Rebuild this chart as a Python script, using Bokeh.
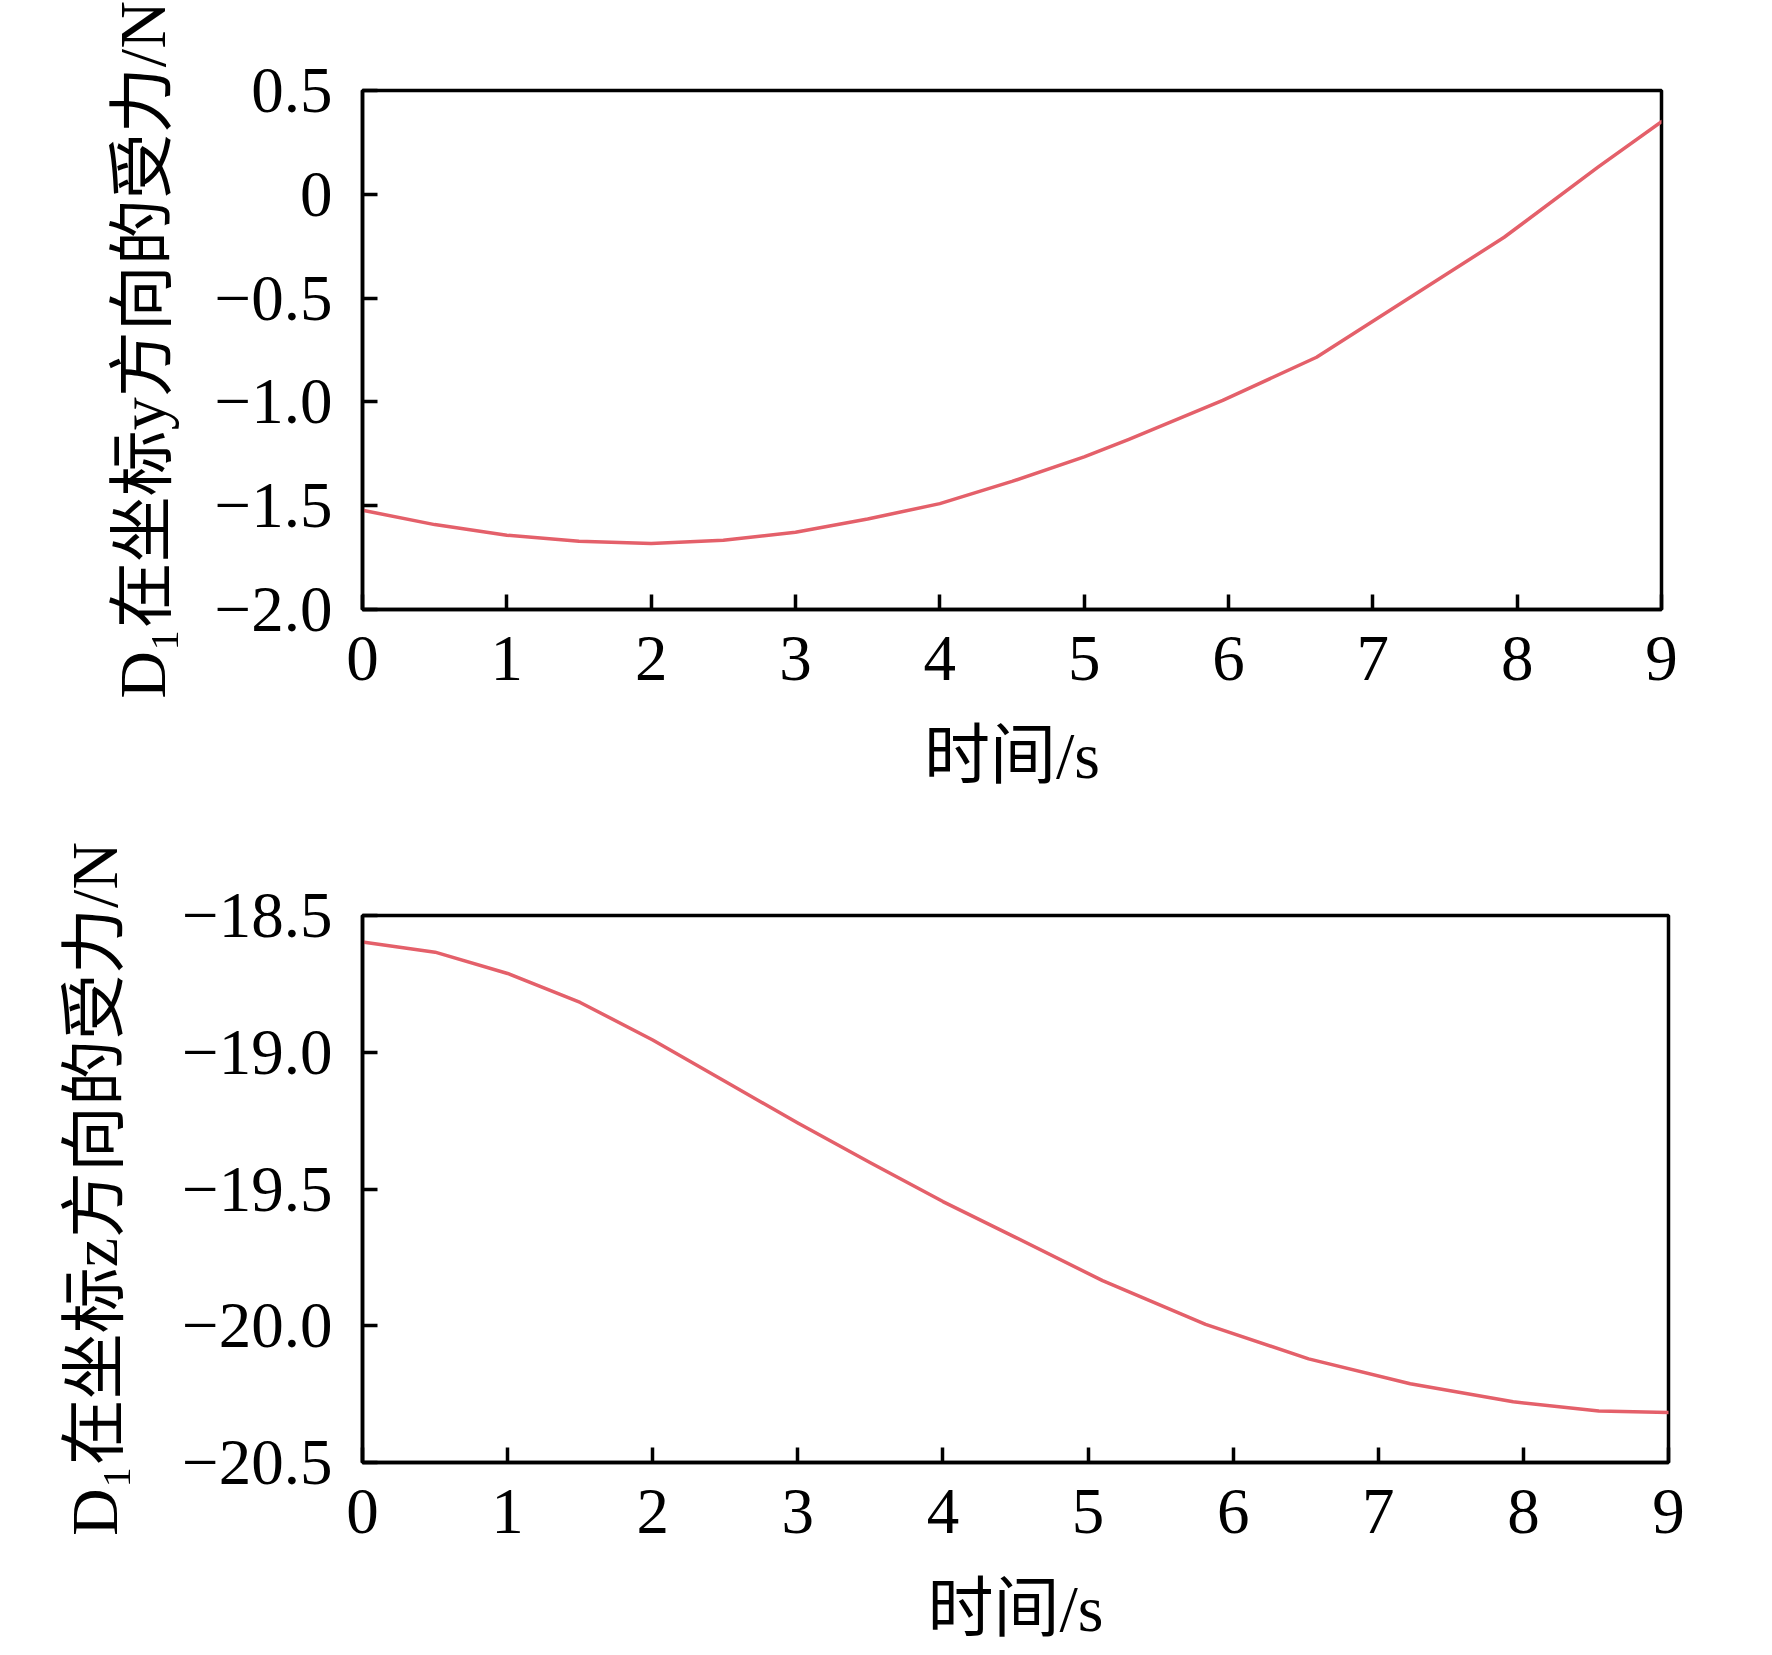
from bokeh.plotting import figure
from bokeh.models import Range1d, FixedTicker
from bokeh.layouts import column
from bokeh.embed import file_html
from bokeh.resources import INLINE

# ---- data ----
time_y = [0, 0.5, 1, 1.5, 2, 2.5, 3, 3.5, 4, 4.5, 5.0, 5.31, 5.96, 6.61, 7.26, 7.91, 8.56, 9.0]
force_y = [-1.522, -1.591, -1.642, -1.671, -1.682, -1.666, -1.628, -1.564, -1.49, -1.383,
           -1.265, -1.18, -0.993, -0.785, -0.496, -0.207, 0.131, 0.35]

time_z = [0, 0.5, 1, 1.5, 2, 2.5, 3, 3.5, 4, 4.5, 5.10, 5.81, 6.52, 7.22, 7.93, 8.52, 9.0]
force_z = [-18.597, -18.634, -18.712, -18.818, -18.955, -19.107, -19.259, -19.404, -19.546,
           -19.677, -19.835, -19.995, -20.121, -20.212, -20.278, -20.312, -20.317]

x_ticks = [0, 1, 2, 3, 4, 5, 6, 7, 8, 9]
x_tick_labels = ["0", "1", "2", "3", "4", "5", "6", "7", "8", "9"]
y1_ticks = [0.5, 0.0, -0.5, -1.0, -1.5, -2.0]
y1_tick_labels = ["0.5", "0", "\u22120.5", "\u22121.0", "\u22121.5", "\u22122.0"]
y2_ticks = [-18.5, -19.0, -19.5, -20.0, -20.5]
y2_tick_labels = ["\u221218.5", "\u221219.0", "\u221219.5", "\u221220.0", "\u221220.5"]

x_label = "时间/s"
y1_label = "D\u2081在坐标y方向的受力/N"
y2_label = "D\u2081在坐标z方向的受力/N"

FONT = "'Liberation Serif', 'Noto Sans CJK SC'"
LINE_COLOR = "#e4606a"
FIG_W = 1740
LEFT = 362


def make_fig(t_vals, y_vals, y_ticks, y_labels, y_label, y_start, y_end,
             frame_w, frame_h, top, bottom, ylab_standoff):
    p = figure(output_backend="svg", toolbar_location=None,
               frame_width=frame_w, frame_height=frame_h,
               min_border_left=LEFT, min_border_right=FIG_W - LEFT - frame_w,
               min_border_top=top, min_border_bottom=bottom,
               x_range=Range1d(0, 9), y_range=Range1d(y_start, y_end))
    p.line(t_vals, y_vals, line_color=LINE_COLOR, line_width=3.5,
           line_join="round", line_cap="round")
    p.grid.visible = False
    p.outline_line_color = "black"
    p.outline_line_width = 3.5
    p.outline_line_alpha = 1.0

    p.xaxis.ticker = FixedTicker(ticks=x_ticks)
    p.xaxis.major_label_overrides = {float(t): l for t, l in zip(x_ticks, x_tick_labels)}
    p.yaxis.ticker = FixedTicker(ticks=y_ticks)
    p.yaxis.major_label_overrides = {float(t): l for t, l in zip(y_ticks, y_labels)}

    for ax in (p.xaxis[0], p.yaxis[0]):
        ax.axis_line_color = "black"
        ax.axis_line_width = 3.5
        ax.major_tick_line_color = "black"
        ax.major_tick_line_width = 3.5
        ax.major_tick_in = 15
        ax.major_tick_out = 0
        ax.minor_tick_line_color = None
        ax.major_label_text_font = FONT
        ax.major_label_text_font_size = "65px"
        ax.major_label_text_color = "black"
        ax.axis_label_text_font = FONT
        ax.axis_label_text_font_size = "66px"
        ax.axis_label_text_font_style = "normal"
        ax.axis_label_text_color = "black"

    p.xaxis.axis_label = x_label
    p.yaxis.axis_label = y_label
    p.xaxis.major_label_standoff = 27
    p.xaxis.axis_label_standoff = 36
    p.yaxis.major_label_standoff = 30
    p.yaxis.axis_label_standoff = ylab_standoff
    p.background_fill_color = "white"
    p.border_fill_color = "white"
    return p


p1 = make_fig(time_y, force_y, y1_ticks, y1_tick_labels, y1_label, -2.0, 0.5,
              1299, 519, 90, 199, 33)
p2 = make_fig(time_z, force_z, y2_ticks, y2_tick_labels, y2_label, -20.5, -18.5,
              1306, 547, 107, 178, 48)

layout = column(p1, p2, spacing=0)
open("out.html", "w").write(file_html(layout, INLINE))
